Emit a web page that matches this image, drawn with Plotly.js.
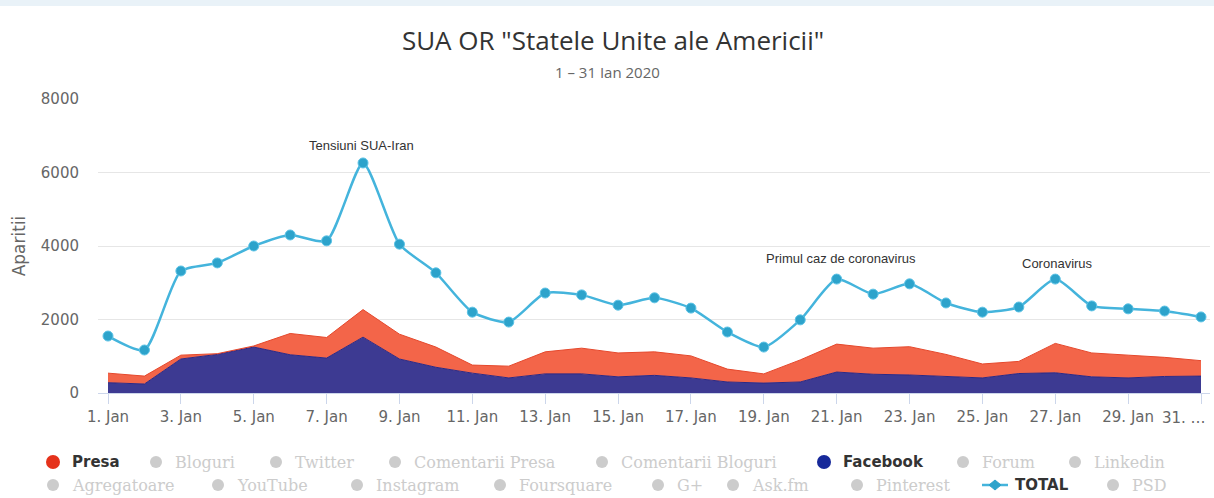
<!DOCTYPE html>
<html><head><meta charset="utf-8">
<script src="https://cdn.plot.ly/plotly-3.0.1.min.js"></script>
<style>html,body{margin:0;padding:0;background:#fff;}#chart{width:1214px;height:498px;}</style>
</head><body><div id="chart"></div>
<script>
// ---- data ----
const days = [1,2,3,4,5,6,7,8,9,10,11,12,13,14,15,16,17,18,19,20,21,22,23,24,25,26,27,28,29,30,31];
const tickDays = [1,3,5,7,9,11,13,15,17,19,21,23,25,27,29,31];
const tickLabels = ["1. Jan","3. Jan","5. Jan","7. Jan","9. Jan","11. Jan","13. Jan","15. Jan","17. Jan","19. Jan","21. Jan","23. Jan","25. Jan","27. Jan","29. Jan","31. …"];
const yTicks = [0,2000,4000,6000,8000];
const facebook = [280,245,925,1050,1250,1040,950,1520,925,700,540,410,520,520,440,480,410,300,270,300,570,510,490,460,410,530,550,440,410,450,460];
const presa = [260,215,105,20,30,580,560,750,675,550,220,320,600,700,650,640,600,350,250,600,760,710,770,590,380,330,800,650,620,520,420];
const total = [1550,1170,3320,3540,4000,4300,4140,6260,4050,3270,2200,1930,2720,2670,2390,2590,2310,1660,1250,1990,3100,2690,2970,2450,2200,2340,3100,2370,2290,2230,2070];
const eventDays = [8,21,27];
const eventLabels = ["Tensiuni SUA-Iran","Primul caz de coronavirus","Coronavirus"];
const legendRow1 = ["Presa","Bloguri","Twitter","Comentarii Presa","Comentarii Bloguri","Facebook","Forum","Linkedin"];
const legendRow2 = ["Agregatoare","YouTube","Instagram","Foursquare","G+","Ask.fm","Pinterest","TOTAL","PSD"];
const activeSeries = ["Presa","Facebook","TOTAL"];

// ---- styles / layout geometry ----
const C = {presaFill:'#F36549', presaLine:'#E5482C', presaDot:'#E5321B',
           fbFill:'#3D3A92', fbLine:'#2C2884', fbDot:'#17299A',
           total:'#44B4DC', totalMarker:'#2DA3CB', gray:'#cccccc'};
const L=98, R=1210, T=99, B=393, W=R-L, H=B-T;
const px = v => (v-L)/W, py = v => (B-v)/H;
const row1X = [53,156,276,395,602,824,963,1075];
const row2X = [53,218,357,500,658,733,857,995,1113];
const rowY = [462,485];
const evShift = [[-2,15],[4,18],[2,13]];
const tickFont = {family:'DejaVu Sans', size:15, color:'#666'};

const traces = [
  {x:days, y:facebook, name:'Facebook', type:'scatter', mode:'lines', stackgroup:'s',
   fillcolor:C.fbFill, line:{color:C.fbLine, width:1}, showlegend:false},
  {x:days, y:presa, name:'Presa', type:'scatter', mode:'lines', stackgroup:'s',
   fillcolor:C.presaFill, line:{color:C.presaLine, width:1}, showlegend:false},
  {x:days, y:total, name:'TOTAL', type:'scatter', mode:'lines+markers',
   line:{color:C.total, width:2.5, shape:'spline', smoothing:0.6},
   marker:{color:C.totalMarker, size:10, line:{color:'#5cc3e6', width:1}}, cliponaxis:false, showlegend:false}
];

const shapes = [
  {type:'rect', xref:'paper', yref:'paper', x0:px(0), x1:px(1214), y0:py(0), y1:py(6), line:{width:0}, fillcolor:'#e9f2f8', layer:'below'}
];
const annotations = [
  {xref:'paper', yref:'paper', x:px(607), y:py(72), text:'1 – 31 Ian 2020', showarrow:false,
   font:{family:'Open Sans, DejaVu Sans', size:15, color:'#666'}, xanchor:'center', yanchor:'middle'},
  // last x tick label, right-aligned so that it stays inside the picture (as in the reference)
  {xref:'x', yref:'paper', x:tickDays[tickDays.length-1], y:0, yshift:-25, xshift:7, text:tickLabels[tickLabels.length-1],
   showarrow:false, xanchor:'right', yanchor:'middle', font:tickFont}
];
eventDays.forEach((d,i)=>{
  annotations.push({x:d, y:total[d-1], text:eventLabels[i], showarrow:false, xanchor:'center', yanchor:'bottom',
    xshift:evShift[i][0], yshift:evShift[i][1]-7, font:{family:'Liberation Sans, Arial', size:13, color:'#333'}});
});
function addLegend(names, xs, yPix){
  names.forEach((n,i)=>{
    const active = activeSeries.includes(n);
    const cx = px(xs[i]), cy = py(yPix);
    if(n==='TOTAL'){
      shapes.push({type:'line', xref:'paper', yref:'paper', xsizemode:'pixel', ysizemode:'pixel', xanchor:cx, yanchor:cy,
        x0:-13, x1:13, y0:0, y1:0, line:{color:C.total, width:2.5}});
      shapes.push({type:'path', xref:'paper', yref:'paper', xsizemode:'pixel', ysizemode:'pixel', xanchor:cx, yanchor:cy,
        path:'M -6 0 L 0 5 L 6 0 L 0 -5 Z', fillcolor:C.totalMarker, line:{color:C.totalMarker, width:1}});
    } else {
      const r = active?7:6;
      const col = n==='Presa'?C.presaDot:(n==='Facebook'?C.fbDot:C.gray);
      shapes.push({type:'circle', xref:'paper', yref:'paper', xsizemode:'pixel', ysizemode:'pixel', xanchor:cx, yanchor:cy,
        x0:-r, x1:r, y0:-r, y1:r, fillcolor:col, line:{width:0}});
    }
    annotations.push({xref:'paper', yref:'paper', x:px(xs[i] + (n==='TOTAL'?18:17)), y:cy, text: active?'<b>'+n+'</b>':n,
      showarrow:false, xanchor:'left', yanchor:'middle',
      font: active?{family:'DejaVu Sans', size:15, color:'#333'}:{family:'DejaVu Serif', size:16, color:'#cccccc'}});
  });
}
addLegend(legendRow1, row1X, rowY[0]);
addLegend(legendRow2, row2X, rowY[1]);

const layout = {
  width:1214, height:498, margin:{l:L, r:1214-R, t:T, b:498-B},
  paper_bgcolor:'#fff', plot_bgcolor:'#fff', showlegend:false,
  title:{text:'SUA OR "Statele Unite ale Americii"', xref:'container', x:613/1214, xanchor:'center',
         yref:'container', y:1-41/498, yanchor:'middle', font:{family:'Open Sans, DejaVu Sans', size:26, color:'#333'}},
  xaxis:{range:[1-(108-L)/36.43, 31+(R-1201)/36.43], tickvals:tickDays,
         ticktext:tickLabels.map((t,i)=> i===tickLabels.length-1 ? '' : t),
         showgrid:false, zeroline:false,
         showline:true, linecolor:'#ccd6eb', ticks:'outside', ticklen:10, tickcolor:'#ccd6eb',
         tickfont:tickFont},
  yaxis:{range:[0,8000], tickvals:yTicks, gridcolor:'#e6e6e6', zeroline:false, showline:false,
         tickfont:tickFont, ticklabelstandoff:18,
         title:{text:'Aparitii', standoff:10, font:{family:'DejaVu Sans', size:17, color:'#666'}}},
  shapes:shapes, annotations:annotations
};
Plotly.newPlot('chart', traces, layout, {displayModeBar:false, staticPlot:true});
</script></body></html>
